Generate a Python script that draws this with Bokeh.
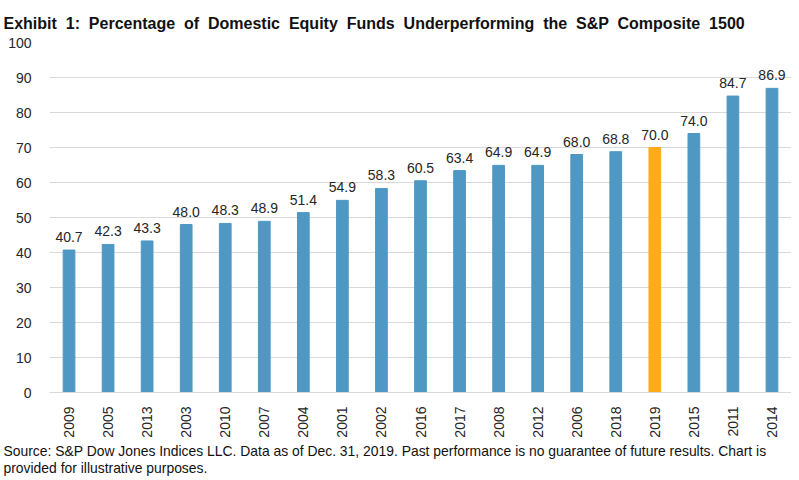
from bokeh.plotting import figure
from bokeh.models import ColumnDataSource, Title, FixedTicker
from bokeh.core.properties import value
from bokeh.embed import file_html
from bokeh.resources import INLINE

years = ["2009", "2005", "2013", "2003", "2010", "2007", "2004", "2001", "2002", "2016",
         "2017", "2008", "2012", "2006", "2018", "2019", "2015", "2011", "2014"]
pct = [40.7, 42.3, 43.3, 48.0, 48.3, 48.9, 51.4, 54.9, 58.3, 60.5,
       63.4, 64.9, 64.9, 68.0, 68.8, 70.0, 74.0, 84.7, 86.9]
highlight_year = "2019"
y_ticks = list(range(0, 101, 10))

title_text = "Exhibit 1: Percentage of Domestic Equity Funds Underperforming the S&P Composite 1500"
source_lines = [
    "Source: S&P Dow Jones Indices LLC. Data as of Dec. 31, 2019. Past performance is no guarantee of future results. Chart is",
    "provided for illustrative purposes.",
]

BLUE = "#4F98C3"
ORANGE = "#FFAB1A"
FONT = "Liberation Sans"
TXT = "#262626"

colors = [ORANGE if y == highlight_year else BLUE for y in years]
labels = ["%.1f" % v for v in pct]
src = ColumnDataSource(dict(x=years, top=pct, color=colors, label=labels))

W, H = 791, 478
LEFT, TOP, BOTTOM = 49, 42, 392

p = figure(x_range=years, y_range=(0, 100), width=W, height=H,
           output_backend="svg", toolbar_location=None,
           min_border_left=LEFT, min_border_right=0, min_border_top=TOP,
           min_border_bottom=H - BOTTOM)
p.outline_line_color = None
p.background_fill_color = "white"
p.border_fill_color = "white"

# the original title is typeset with wide word gaps
p.title.text = " \u00a0".join(title_text.split(" "))
p.title.text_font = FONT
p.title.text_font_size = "16px"
p.title.text_font_style = "bold"
p.title.text_color = "#111111"
p.title.align = "left"
p.title.offset = 3 - LEFT
p.title.standoff = 22

p.vbar(x="x", top="top", width=0.3, color="color", source=src)
p.text(x="x", y="top", text="label", source=src, text_align="center",
       text_baseline="bottom", y_offset=-8, text_font=value(FONT),
       text_font_size="14px", text_color=TXT)

p.yaxis.ticker = FixedTicker(ticks=y_ticks)
p.yaxis.axis_line_color = None
p.yaxis.major_tick_line_color = None
p.yaxis.minor_tick_line_color = None
p.yaxis.major_label_text_font = FONT
p.yaxis.major_label_text_font_size = "14px"
p.yaxis.major_label_text_color = TXT
p.yaxis.major_label_standoff = 12

p.xaxis.axis_line_color = "#D9D9D9"
p.xaxis.major_tick_line_color = None
p.xaxis.minor_tick_line_color = None
p.xaxis.major_label_orientation = 1.5708
p.xaxis.major_label_text_font = FONT
p.xaxis.major_label_text_font_size = "14px"
p.xaxis.major_label_text_color = TXT
p.xaxis.major_label_standoff = 8

p.xgrid.grid_line_color = None
p.ygrid.grid_line_color = "#D9D9D9"
p.ygrid.grid_line_width = 1

for i, line in enumerate(source_lines):
    t = Title(text=line, align="left", offset=3 - LEFT, text_font=FONT,
              text_font_size="13.9px", text_font_style="normal",
              text_color="#111111", standoff=(1 if i == 0 else -4))
    p.add_layout(t, "below")

open("out.html", "w").write(file_html(p, INLINE))
